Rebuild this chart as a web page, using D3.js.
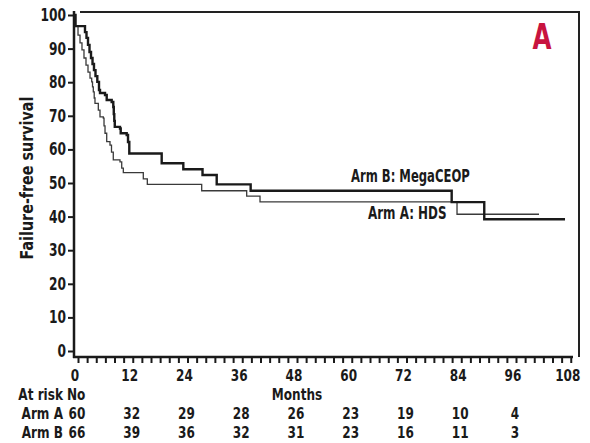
<!DOCTYPE html>
<html><head><meta charset="utf-8">
<script src="https://cdn.jsdelivr.net/npm/d3@7"></script>
<style>
html,body{margin:0;padding:0;background:#fff;}
svg{display:block;}
text{font-family:"Liberation Sans Narrow","DejaVu Sans Condensed","Roboto Condensed",sans-serif;font-weight:bold;fill:#1a1a1a;}
</style></head>
<body>
<script>
// ---- data ----
const xTickLabels = [0,12,24,36,48,60,72,84,96,108];
const yTickLabels = [0,10,20,30,40,50,60,70,80,90,100];
const armBTimes = [0,0.11,2.19,2.52,2.85,3.18,3.51,3.84,4.16,4.49,4.89,5.26,5.48,6.58,6.95,8.04,8.39,8.50,8.61,8.72,9.86,10.02,11.33,11.62,11.90,19.0,23.74,27.95,31.06,38.5,82.56,89.7,107.4];
const armBSurv  = [100,96.7,94.9,93.2,91.1,89.0,87.2,85.4,83.6,81.8,80.1,77.7,76.8,76.2,74.7,74.1,72.6,70.5,68.5,66.7,66.2,64.8,64.3,62.2,58.8,55.9,54.1,52.4,49.6,47.7,44.3,39.2,39.2];
const armATimes = [0,0.11,0.66,1.10,1.53,1.97,2.41,2.85,3.29,3.66,3.84,4.01,4.21,4.38,5.11,5.48,6.20,6.36,6.58,6.95,7.67,8.0,8.39,9.86,10.24,10.59,14.97,15.85,27.77,37.63,40.55,83.73,101.7];
const armASurv  = [100,96.7,94.0,91.7,89.6,87.2,85.1,83.0,81.2,80.1,78.6,77.1,75.3,73.7,71.7,69.7,69.3,67.0,64.8,62.3,61.3,59.2,56.9,56.3,54.4,53.1,51.2,49.6,47.7,46.1,44.4,40.7,40.7];
const atRiskMonths = [0,12,24,36,48,60,72,84,96];
const atRiskA = [60,32,29,28,26,23,19,10,4];
const atRiskB = [66,39,36,32,31,23,16,11,3];
const rowLabels = ["Arm A","Arm B"];

// ---- chart ----
const W=590,H=443;
const svg=d3.select("body").append("svg").attr("width",W).attr("height",H);
const x=d3.scaleLinear().domain([0,108]).range([75,567.75]);
const y=d3.scaleLinear().domain([0,100]).range([351,15]);

// condensed text helper
function txt(parent,tx,ty,str,size,anchor,sx,rot){
  const g=parent.append("g").attr("transform",`translate(${tx},${ty})`+(rot?` rotate(${rot})`:"")+` scale(${sx},1)`);
  return g.append("text").attr("x",0).attr("y",0).attr("text-anchor",anchor||"start").attr("font-size",size).text(str);
}
const SX=0.84, FS=16;

// frame
svg.append("line").attr("x1",80).attr("x2",580).attr("y1",12).attr("y2",12).attr("stroke","#222").attr("stroke-width",2);
svg.append("line").attr("x1",579).attr("x2",579).attr("y1",11).attr("y2",357).attr("stroke","#222").attr("stroke-width",2);
// axes lines
svg.append("line").attr("x1",74).attr("x2",74).attr("y1",11).attr("y2",358).attr("stroke","#1a1a1a").attr("stroke-width",2.5);
svg.append("line").attr("x1",73).attr("x2",573).attr("y1",357).attr("y2",357).attr("stroke","#1a1a1a").attr("stroke-width",2.5);

// x tick marks (every 2 months)
const xt=svg.append("g").attr("transform","translate(3,357)")
  .call(d3.axisBottom(x).tickValues(d3.range(0,109,2)).tickSize(6).tickFormat(""));
xt.select(".domain").remove();
xt.selectAll("line").attr("stroke","#1a1a1a").attr("stroke-width",2);
// x labels
const xl=svg.append("g");
xTickLabels.forEach(d=>txt(xl,x(d),381,d,FS,"middle",SX));

// y axis ticks
const yt=svg.append("g").attr("transform","translate(74,0)")
  .call(d3.axisLeft(y).tickValues(yTickLabels).tickSize(6).tickFormat(""));
yt.select(".domain").remove();
yt.selectAll("line").attr("stroke","#1a1a1a").attr("stroke-width",2);
const yl=svg.append("g");
yTickLabels.forEach(d=>txt(yl,66,y(d)+6,d,17,"end",0.8));

// y title
txt(svg,33,178,"Failure-free survival",18.5,"middle",0.86,-90);

// curves
const line=d3.line().x(d=>x(d[0])).y(d=>y(d[1])).curve(d3.curveStepAfter);
const dA=armATimes.map((t,i)=>[t,armASurv[i]]);
const dB=armBTimes.map((t,i)=>[t,armBSurv[i]]);
svg.append("path").attr("d",line(dA)).attr("fill","none").attr("stroke","#3a3a3a").attr("stroke-width",1.3);
svg.append("path").attr("d",line(dB)).attr("fill","none").attr("stroke","#1a1a1a").attr("stroke-width",2.4);

// curve labels
txt(svg,351,182,"Arm B: MegaCEOP",17,"start",0.76);
txt(svg,368,219,"Arm A: HDS",17,"start",0.78);

// panel letter
txt(svg,542,49,"A",35,"middle",0.78).style("fill","#c8143f");

// at risk table
txt(svg,63,400,"At risk",FS,"end",SX);
txt(svg,67,400,"No",FS,"start",SX);
txt(svg,297,400,"Months",FS,"middle",SX);
[atRiskA,atRiskB].forEach((row,ri)=>{
  const yy=419+ri*19;
  txt(svg,63,yy,rowLabels[ri],FS,"end",SX);
  row.forEach((d,i)=>txt(svg,x(atRiskMonths[i])+2,yy,d,FS,"middle",SX));
});
</script>
</body></html>
